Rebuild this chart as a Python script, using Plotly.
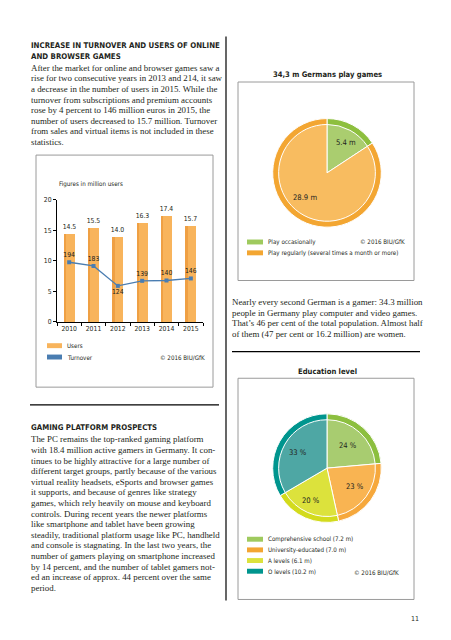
import plotly.graph_objects as go

W, H = 451, 640
def X(px): return px / W
def Y(py): return 1 - py / H

# ---------------- data ----------------
years = ["2010", "2011", "2012", "2013", "2014", "2015"]
users = [14.5, 15.5, 14.0, 16.3, 17.4, 15.7]
turnover = [194, 183, 124, 139, 140, 146]
y_ticks = [0, 5, 10, 15, 20]

play_labels = ["Play occasionally", "Play regularly (several times a month or more)"]
play_values = [5.4, 28.9]

edu_labels = ["Comprehensive school", "University-educated", "A levels", "O levels"]
edu_values = [7.2, 7.0, 6.1, 10.2]
edu_pct = [24, 23, 20, 33]

text1 = [
    "After the market for online and browser games saw a",
    "rise for two consecutive years in 2013 and 214, it saw",
    "a decrease in the number of users in 2015. While the",
    "turnover from subscriptions and premium accounts",
    "rose by 4 percent to 146 million euros in 2015, the",
    "number of users decreased to 15.7 million. Turnover",
    "from sales and virtual items is not included in these",
    "statistics.",
]
text2 = [
    "Nearly every second German is a gamer: 34.3 million",
    "people in Germany play computer and video games.",
    "That\u2019s 46 per cent of the total population. Almost half",
    "of them (47 per cent or 16.2 million) are women.",
]
text3 = [
    "The PC remains the top-ranked gaming platform",
    "with 18.4 million active gamers in Germany. It con-",
    "tinues to be highly attractive for a large number of",
    "different target groups, partly because of the various",
    "virtual reality headsets, eSports and browser games",
    "it supports, and because of genres like strategy",
    "games, which rely heavily on mouse and keyboard",
    "controls. During recent years the newer platforms",
    "like smartphone and tablet have been growing",
    "steadily, traditional platform usage like PC, handheld",
    "and console is stagnating. In the last two years, the",
    "number of gamers playing on smartphone increased",
    "by 14 percent, and the number of tablet gamers not-",
    "ed an increase of approx. 44 percent over the same",
    "period.",
]

# ---------------- styles ----------------
COND = "Liberation Sans Narrow, DejaVu Sans Condensed, Arial Narrow, sans-serif"
SERIF = "Liberation Serif, DejaVu Serif, serif"
HEAD = "DejaVu Sans Condensed, Liberation Sans, sans-serif"
ORANGE_BAR = "#F8B45C"
ORANGE_BAR_D = "#EFA044"
BLUE = "#4A7DB1"
TXT = "#231f20"
SMALL = 6.2

fig = go.Figure()

# ---------------- bar + line chart ----------------
fig.add_trace(go.Bar(
    x=years, y=users, width=0.46, marker=dict(color=ORANGE_BAR, line=dict(width=0)),
    text=[f"{v:.1f}" for v in users], textposition="outside", cliponaxis=False,
    constraintext="none",
    textfont=dict(family=COND, size=6.8, color=TXT), xaxis="x", yaxis="y", showlegend=False,
))
fig.add_trace(go.Bar(
    x=years, y=users, width=0.1, offset=-0.23, marker=dict(color=ORANGE_BAR_D, line=dict(width=0)),
    xaxis="x", yaxis="y", showlegend=False, hoverinfo="skip",
))
pos = ["top center" if i != 2 else "bottom center" for i in range(len(turnover))]
fig.add_trace(go.Scatter(
    x=years, y=turnover, mode="lines+markers+text", text=[str(v) for v in turnover],
    textposition=pos, textfont=dict(family=COND, size=6.8, color=TXT),
    line=dict(color=BLUE, width=1.3), marker=dict(symbol="square", size=4, color=BLUE),
    xaxis="x", yaxis="y2", showlegend=False, cliponaxis=False,
))

# ---------------- pies ----------------
def pie_domain(cx, cy, r):
    return dict(x=[X(cx - r), X(cx + r)], y=[Y(cy + r), Y(cy - r)])

play_outer = ["#8DBF3E", "#F3A632"]
play_inner = ["#AACD6F", "#F8BC60"]
fig.add_trace(go.Pie(values=play_values, labels=play_labels, sort=False, direction="clockwise",
                     rotation=0, textinfo="none", marker=dict(colors=play_outer, line=dict(color="white", width=1)),
                     domain=pie_domain(327, 171, 55), showlegend=False, hoverinfo="label+value"))
fig.add_trace(go.Pie(values=play_values, labels=play_labels, sort=False, direction="clockwise",
                     rotation=0, textinfo="none", marker=dict(colors=play_inner, line=dict(color="white", width=1)),
                     domain=pie_domain(327, 171, 49), showlegend=False, hoverinfo="label+value"))

edu_outer = ["#8CBF3F", "#F6A83C", "#D3DB1C", "#00958E"]
edu_inner = ["#A8CC70", "#F9B452", "#DCE23C", "#4EA7A4"]
fig.add_trace(go.Pie(values=edu_values, labels=edu_labels, sort=False, direction="clockwise",
                     rotation=0, textinfo="none", marker=dict(colors=edu_outer, line=dict(color="white", width=1)),
                     domain=pie_domain(327, 470, 55), showlegend=False, hoverinfo="label+value"))
fig.add_trace(go.Pie(values=edu_values, labels=edu_labels, sort=False, direction="clockwise",
                     rotation=0, textinfo="none", marker=dict(colors=edu_inner, line=dict(color="white", width=1)),
                     domain=pie_domain(327, 470, 49), showlegend=False, hoverinfo="label+value"))

# ---------------- annotations & shapes ----------------
ann = []
shapes = []

def text(px, py, s, size=9, family=SERIF, color=TXT, xanchor="left", bold=False):
    if bold:
        s = f"<b>{s}</b>"
    ann.append(dict(x=X(px), y=Y(py), xref="paper", yref="paper", text=s, showarrow=False,
                    xanchor=xanchor, yanchor="middle", borderpad=0,
                    font=dict(size=size, family=family, color=color)))

def rect(x0, y0, x1, y1, fill=None, line=None, lw=1):
    shapes.append(dict(type="rect", xref="paper", yref="paper", x0=X(x0), x1=X(x1), y0=Y(y1), y1=Y(y0),
                       fillcolor=fill if fill else "rgba(0,0,0,0)",
                       line=dict(color=line if line else "rgba(0,0,0,0)", width=lw if line else 0)))

def hline(x0, x1, y, color="#000", w=1):
    shapes.append(dict(type="line", xref="paper", yref="paper", x0=X(x0), x1=X(x1), y0=Y(y), y1=Y(y),
                       line=dict(color=color, width=w)))

def vline(x, y0, y1, color="#000", w=1):
    shapes.append(dict(type="line", xref="paper", yref="paper", x0=X(x), x1=X(x), y0=Y(y0), y1=Y(y1),
                       line=dict(color=color, width=w)))

BODY = 8.9
# left column text
text(30, 42.5, "INCREASE IN TURNOVER AND USERS OF ONLINE", size=7.8, family=HEAD, bold=True)
text(30, 53.5, "AND BROWSER GAMES", size=7.8, family=HEAD, bold=True)
for i, s in enumerate(text1):
    text(30, 64.5 + i * 10.75, s, size=BODY)

text(30, 429, "GAMING PLATFORM PROSPECTS", size=7.8, family=HEAD, bold=True)
for i, s in enumerate(text3):
    text(30, 441 + i * 10.72, s, size=BODY)

# right column text
text(327, 71, "34,3 m Germans play games", size=7.6, family=HEAD, xanchor="center", bold=True)
for i, s in enumerate(text2):
    text(231, 302 + i * 10.6, s, size=BODY)
text(327, 372, "Education level", size=7.6, family=HEAD, xanchor="center", bold=True)

# page number
text(415, 623, "11", size=7, family=COND, xanchor="center")

# separators
vline(226, 33, 604, w=1.2)
hline(30, 219, 406, w=1.2)
hline(232, 420, 352, w=1.2)

# boxes
rect(36, 153, 213, 388, line="#9a9a9a", lw=1)
rect(238, 79, 414, 280, line="#9a9a9a", lw=1)
rect(238, 379, 414, 603, line="#9a9a9a", lw=1)

# bar chart decorations
text(58, 182, "Figures in million users", size=SMALL, family=COND)
rect(47, 343.5, 62, 348.5, fill=ORANGE_BAR)
text(66, 346, "Users", size=SMALL, family=COND)
rect(47, 355, 62, 360, fill=BLUE)
text(66, 357.5, "Turnover", size=SMALL, family=COND)
text(206, 357.5, "\u00a9 2016 BIU/GfK", size=SMALL, family=COND, xanchor="right")

# pie 1 labels + legend
share1 = [f"{v} m" for v in play_values]
text(346, 140, share1[0], size=7.6, family=COND, xanchor="center")
text(305, 196, share1[1], size=7.6, family=COND, xanchor="center")
rect(247, 238.5, 263, 243.5, fill="#9FCA5E")
text(267, 241, play_labels[0], size=SMALL, family=COND)
rect(247, 249.5, 263, 254.5, fill="#F3A632")
text(267, 252, play_labels[1], size=SMALL, family=COND)
text(406, 241, "\u00a9 2016 BIU/GfK", size=SMALL, family=COND, xanchor="right")

# pie 2 labels + legend
lab_pos = [(348, 447), (355, 489), (311, 503), (298, 454)]
for (lx, ly), p in zip(lab_pos, edu_pct):
    text(lx, ly, f"{p} %", size=7.6, family=COND, xanchor="center")
leg_cols = ["#9FCA5E", "#F3A632", "#DCE23C", "#00958E"]
for i, (lab, v) in enumerate(zip(edu_labels, edu_values)):
    yy = 542 + i * 10.8
    rect(247, yy - 2.5, 263, yy + 2.5, fill=leg_cols[i])
    text(267, yy, f"{lab} ({v} m)", size=SMALL, family=COND)
text(400, 575.5, "\u00a9 2016 BIU/GfK", size=SMALL, family=COND, xanchor="right")

fig.update_layout(
    width=W, height=H, margin=dict(l=0, r=0, t=0, b=0),
    paper_bgcolor="white", plot_bgcolor="white",
    barmode="overlay", bargap=0,
    annotations=ann, shapes=shapes,
    xaxis=dict(domain=[X(57), X(203)], type="category", range=[-0.5, 5.5],
               showline=True, linecolor="#000", linewidth=1.2, ticks="outside", ticklen=3,
               tickson="boundaries", tickcolor="#000", tickangle=0,
               tickfont=dict(family=COND, size=6.8, color=TXT), showgrid=False, fixedrange=True),
    yaxis=dict(domain=[Y(322), Y(198)], range=[0, 20], tickvals=y_ticks,
               showline=True, linecolor="#000", linewidth=1.2, ticks="outside", ticklen=3,
               tickcolor="#000", tickfont=dict(family=COND, size=6.8, color=TXT),
               showgrid=False, zeroline=False, fixedrange=True),
    yaxis2=dict(domain=[Y(322), Y(198)], range=[17, 380], overlaying="y", visible=False,
                fixedrange=True),
)

fig.write_html("out.html", config={"displayModeBar": False},
               post_script="document.body.style.margin='0';document.body.style.overflow='hidden';")
